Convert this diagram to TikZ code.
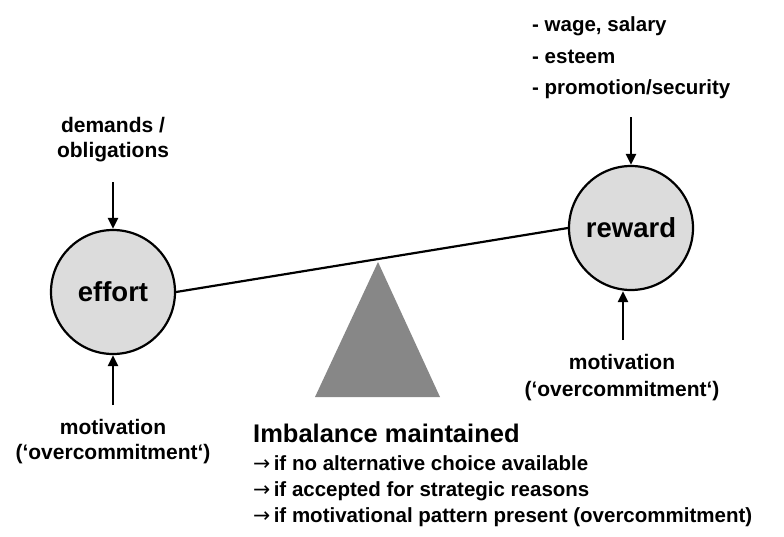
\documentclass[tikz,border=0pt]{standalone}
\usepackage{fontspec}
\setmainfont{Liberation Sans}
\newfontfamily\arrowfont{DejaVu Sans}
\usetikzlibrary{arrows.meta}
\definecolor{circfill}{HTML}{DCDCDC}
\definecolor{pivot}{HTML}{878787}
\newcommand{\rarr}{{\arrowfont\mdseries →}\,}
\begin{document}
\begin{tikzpicture}[x=1pt,y=-1pt,
  circ/.style={circle,draw=black,line width=2.2pt,fill=circfill,minimum size=124pt,inner sep=0pt,font=\bfseries\fontsize{27.5}{30}\selectfont},
  lbl/.style={inner sep=0pt,font=\bfseries\fontsize{21}{25}\selectfont,align=center},
  conn/.style={line width=2.2pt},
  arr/.style={line width=2.2pt,-{Triangle[length=11pt,width=10pt]}}]
\useasboundingbox (0,0) rectangle (784,536);
% fulcrum
\fill[pivot] (315,397) -- (378,262) -- (440,397) -- cycle;
% circles
\node[circ] (effort) at (113,292) {effort};
\node[circ] (reward) at (631,228) {reward};
\draw[conn] (effort.east) -- (reward.west);
% arrows
\coordinate (et) at (113,182);
\coordinate (eb) at (113,405);
\coordinate (rt) at (631,117);
\coordinate (rb) at (623,340);
\draw[arr] (et) -- (effort.north);
\draw[arr] (eb) -- (effort.south);
\draw[arr] (rt) -- (reward.north);
\draw[arr] (rb) -- (rb |- reward.south);
% labels
\node[lbl] (dem) at (113,140) {demands /\\obligations};
\node[lbl,align=left,anchor=west,font=\bfseries\fontsize{20.5}{31.5}\selectfont] (rew) at (532,58) {- wage, salary\\- esteem\\- promotion/security};
\node[lbl,font=\bfseries\fontsize{21}{27}\selectfont] (motr) at (622,378) {motivation\\(‘overcommitment‘)};
\node[lbl] (motl) at (113,442) {motivation\\(‘overcommitment‘)};
\node[lbl,anchor=west,font=\bfseries\fontsize{25.5}{28}\selectfont] (imb) at (253,433) {Imbalance maintained};
\node[lbl,anchor=west,align=left,font=\bfseries\fontsize{20.5}{26}\selectfont] (cond) at (253,491) {\rarr if no alternative choice available\\\rarr if accepted for strategic reasons\\\rarr if motivational pattern present (overcommitment)};
\end{tikzpicture}
\end{document}
